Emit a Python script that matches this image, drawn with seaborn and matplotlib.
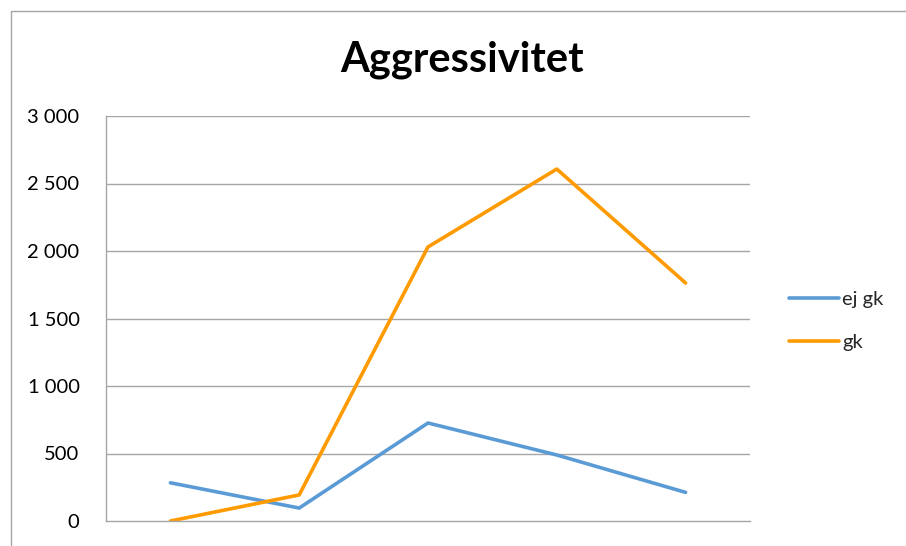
import matplotlib
matplotlib.use("Agg")
import matplotlib.pyplot as plt
import seaborn as sns
import pandas as pd
from matplotlib.lines import Line2D

categories = ["1", "2", "3", "4", "5"]
ej_gk = [283, 96, 726, 489, 212]
gk = [0, 193, 2030, 2607, 1763]
series_names = ["ej gk", "gk"]
y_ticks = [0, 500, 1000, 1500, 2000, 2500, 3000]
y_tick_labels = ["0", "500", "1 000", "1 500", "2 000", "2 500", "3 000"]
title = "Aggressivitet"

df = pd.DataFrame({
    "x": list(range(len(categories))) * 2,
    "value": ej_gk + gk,
    "series": [series_names[0]] * len(ej_gk) + [series_names[1]] * len(gk),
})

sns.set_theme(style="white")
plt.rcParams['font.family'] = ['Lato', 'DejaVu Sans']

fig = plt.figure(figsize=(9.06, 5.46), dpi=100)
ax = fig.add_axes([106/906, 1-521/546, (750-106)/906, (521-116)/546])

palette = {"ej gk": "#5B9BD5", "gk": "#FF9A00"}
sns.lineplot(data=df, x="x", y="value", hue="series", palette=palette,
             linewidth=2.6, ax=ax, legend=False)

ax.set_xlim(-0.5, len(categories) - 0.5)
ax.set_ylim(0, 3000)
ax.set_yticks(y_ticks)
ax.set_yticklabels(y_tick_labels, fontsize=14.5, color="black")
ax.set_xticks([])
ax.set_xlabel("")
ax.set_ylabel("")
ax.tick_params(axis="y", length=0, pad=19)
for y in y_ticks[1:]:
    ax.axhline(y, color="#A6A6A6", linewidth=1, zorder=0)
for s in ["top", "right"]:
    ax.spines[s].set_visible(False)
ax.spines["left"].set_color("#A6A6A6")
ax.spines["bottom"].set_color("#A6A6A6")
ax.spines["left"].set_linewidth(1)
ax.spines["bottom"].set_linewidth(1)

fig.text(462/906, 1-60/546, title, ha="center", va="center",
         fontsize=30, fontweight="bold", color="black")

handles = [Line2D([0], [0], color=palette[n], linewidth=2.6) for n in series_names]
fig.legend(handles, series_names, loc="center left",
           bbox_to_anchor=(771/906, 1-321/546), frameon=False,
           fontsize=14.5, handlelength=2.5, handletextpad=0.15,
           labelspacing=1.3)

# outer chart border
fig.add_artist(Line2D([10.5/906, 10.5/906], [0, 1-10.5/546], transform=fig.transFigure,
                      color="#A6A6A6", linewidth=1))
fig.add_artist(Line2D([10.5/906, 1], [1-10.5/546, 1-10.5/546], transform=fig.transFigure,
                      color="#A6A6A6", linewidth=1))

fig.savefig("out.png", dpi=100)
